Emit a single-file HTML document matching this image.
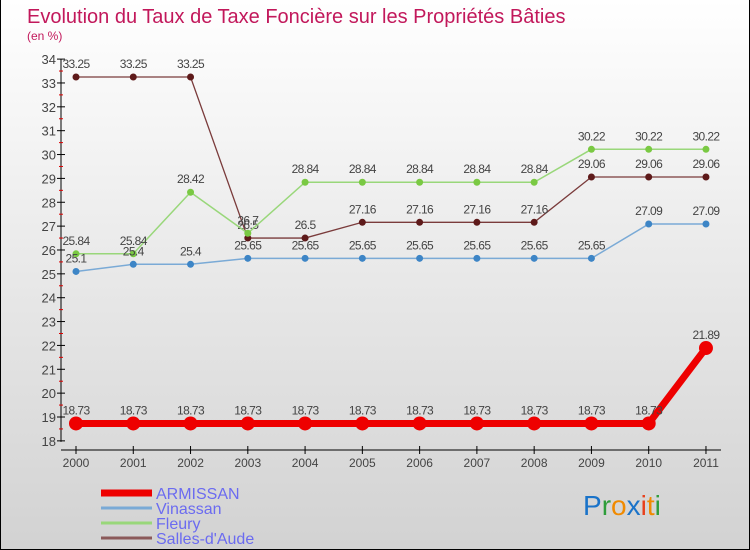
<!DOCTYPE html>
<html><head><meta charset="utf-8"><style>
body{margin:0}
#c{width:750px;height:550px;position:relative;overflow:hidden;font-family:"Liberation Sans",sans-serif;background:linear-gradient(#ffffff,#d2d2d2);box-sizing:border-box;border:1px solid #000;border-top:none}
</style></head><body>
<div id="c">
<svg id="s" width="750" height="550" style="position:absolute;left:0;top:0;font-family:'Liberation Sans',sans-serif">
<text x="26" y="23" font-size="20" fill="#c2185b">Evolution du Taux de Taxe Foncière sur les Propriétés Bâties</text>
<text x="26" y="40" font-size="12" fill="#c2185b">(en %)</text>
</svg>
</div>
<script>
const years=["2000","2001","2002","2003","2004","2005","2006","2007","2008","2009","2010","2011"];
const armissan=[18.73,18.73,18.73,18.73,18.73,18.73,18.73,18.73,18.73,18.73,18.73,21.89];
const vinassan=[25.1,25.4,25.4,25.65,25.65,25.65,25.65,25.65,25.65,25.65,27.09,27.09];
const fleury=[25.84,25.84,28.42,26.7,28.84,28.84,28.84,28.84,28.84,30.22,30.22,30.22];
const salles=[33.25,33.25,33.25,26.5,26.5,27.16,27.16,27.16,27.16,29.06,29.06,29.06];
const yTicks=[18,19,20,21,22,23,24,25,26,27,28,29,30,31,32,33,34];
const seriesNames=["ARMISSAN","Vinassan","Fleury","Salles-d'Aude"];

const NS="http://www.w3.org/2000/svg",s=document.getElementById('s');
const X=i=>75+i*57.27, Y=v=>417-(v-19)*23.86;
function el(t,a,p){const e=document.createElementNS(NS,t);for(const k in a)e.setAttribute(k,a[k]);(p||s).appendChild(e);return e;}
let a=el('line',{x1:60,y1:Y(34),x2:60,y2:Y(18)+1,stroke:'#000'});

a=el('line',{x1:60,y1:450,x2:720,y2:450,stroke:'#000'});

yTicks.forEach(v=>{el('line',{x1:56,y1:Y(v),x2:64,y2:Y(v),stroke:'#000'});
 if(v<34)el('line',{x1:58,y1:Y(v+0.5),x2:62,y2:Y(v+0.5),stroke:'#d00'});
 const t=el('text',{x:55,y:Y(v)+5,'text-anchor':'end','font-size':13,fill:'#444'});t.textContent=v;
 });
years.forEach((y,i)=>{el('line',{x1:X(i),y1:446,x2:X(i),y2:454,stroke:'#000'});
 const t=el('text',{x:X(i),y:467,'text-anchor':'middle','font-size':12,fill:'#444'});t.textContent=y;
 });
function series(d,col,w,r,dot,name){
 const g=el('g',{});
 el('polyline',{points:d.map((v,i)=>X(i)+','+Y(v)).join(' '),fill:'none',stroke:col,'stroke-width':w},g);
 d.forEach((v,i)=>{el('circle',{cx:X(i),cy:Y(v),r:r,fill:dot},g);
  const t=el('text',{x:X(i),y:Y(v)-9,'text-anchor':'middle','font-size':12,fill:'#444','letter-spacing':'-0.6'},g);t.textContent=v;});
}
series(salles,'#7a3b3b',1.3,3.5,'#5e1a1a','series-salles');
series(fleury,'#99d77a',1.5,3.5,'#7ac943','series-fleury');
series(vinassan,'#7aaad6',1.5,3.5,'#3d85c6','series-vinassan');
series(armissan,'#ee0000',7,7,'#ee0000','series-armissan');
const lc=['#ee0000','#7aaad6','#99d77a','#8b5a5a'],lw=[7,3,3,3];
seriesNames.forEach((n,i)=>{const g=el('g',{});
 const y=493+i*15;el('line',{x1:100,y1:y,x2:151,y2:y,stroke:lc[i],'stroke-width':lw[i]},g);
 const t=el('text',{x:155,y:y+6,'font-size':16,fill:'#6b6bf0'},g);t.textContent=n;});
const lg=el('text',{x:582,y:515,'font-size':28});

[['P','#1a73c9'],['r','#2e9d3a'],['o','#f08a00'],['x','#1a73c9'],['i','#e8401c'],['t','#f08a00'],['i','#2e9d3a']].forEach(([c,f])=>{const ts=el('tspan',{fill:f},lg);ts.textContent=c;});
</script>
</body></html>
